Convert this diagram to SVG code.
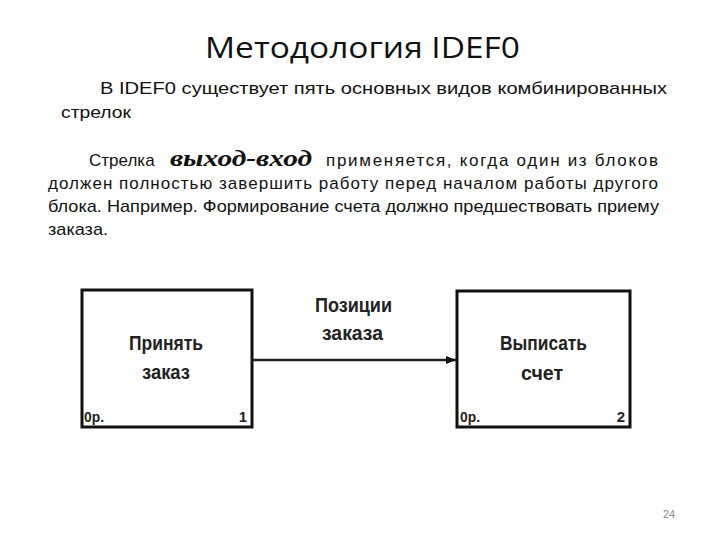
<svg xmlns="http://www.w3.org/2000/svg" width="720" height="540" viewBox="0 0 720 540">
<defs>
<style>
.t{font-family:"Liberation Sans",Arial,sans-serif;fill:#111;}
.body{font-size:17px;}
.lbl{font-size:21px;font-weight:bold;fill:#222;}
.sm{font-size:15px;font-weight:bold;fill:#222;}
.box{fill:#fff;stroke:#111;stroke-width:3;}
.conn{stroke:#222;stroke-width:2.5;fill:none;}
</style>
<marker id="ah" markerWidth="10" markerHeight="8" refX="10" refY="4" orient="auto" markerUnits="userSpaceOnUse">
<path d="M0,0 L10,4 L0,8 z" fill="#111"/>
</marker>
</defs>
<rect width="720" height="540" fill="#fff"/>
<text x="205" y="58" textLength="315" lengthAdjust="spacingAndGlyphs" style="font-family:'Open Sans','Liberation Sans',sans-serif;font-size:30px;fill:#111;">Методология IDEF0</text>
<text class="t body" x="100" y="94" textLength="567" lengthAdjust="spacingAndGlyphs">В IDEF0 существует пять основных видов комбинированных</text>
<text class="t body" x="61" y="118" textLength="70" lengthAdjust="spacingAndGlyphs">стрелок</text>
<text class="t body" x="89" y="166">Стрелка</text>
<text x="170" y="166" style="font-family:'Liberation Serif','DejaVu Serif',serif;font-size:24px;font-weight:bold;font-style:italic;fill:#111;" textLength="142" lengthAdjust="spacingAndGlyphs">выход-вход</text>
<text class="t body" x="326" y="166" textLength="332" lengthAdjust="spacing">применяется, когда один из блоков</text>
<text class="t body" x="48" y="189" textLength="610" lengthAdjust="spacing">должен полностью завершить работу перед началом работы другого</text>
<text class="t body" x="48" y="212" textLength="611" lengthAdjust="spacingAndGlyphs">блока. Например. Формирование счета должно предшествовать приему</text>
<text class="t body" x="48" y="235" textLength="60" lengthAdjust="spacingAndGlyphs">заказа.</text>
<g id="connectors">
<line class="conn" x1="252" y1="360" x2="456" y2="360" marker-end="url(#ah)"/>
<text class="t lbl" x="315" y="312" textLength="77" lengthAdjust="spacingAndGlyphs">Позиции</text>
<text class="t lbl" x="322" y="340" textLength="61" lengthAdjust="spacingAndGlyphs">заказа</text>
</g>
<g id="node1">
<rect class="box" x="82" y="290" width="170" height="137"/>
<text class="t lbl" x="129" y="350" textLength="74" lengthAdjust="spacingAndGlyphs">Принять</text>
<text class="t lbl" x="142" y="379" textLength="48" lengthAdjust="spacingAndGlyphs">заказ</text>
<text class="t sm" x="84" y="422" textLength="20" lengthAdjust="spacingAndGlyphs">0р.</text>
<text class="t sm" x="247" y="422" text-anchor="end">1</text>
</g>
<g id="node2">
<rect class="box" x="457" y="291" width="173" height="136"/>
<text class="t lbl" x="500" y="350" textLength="87" lengthAdjust="spacingAndGlyphs">Выписать</text>
<text class="t lbl" x="521" y="380" textLength="42" lengthAdjust="spacingAndGlyphs">счет</text>
<text class="t sm" x="460" y="422" textLength="20" lengthAdjust="spacingAndGlyphs">0р.</text>
<text class="t sm" x="625" y="422" text-anchor="end">2</text>
</g>
<text x="669" y="518" text-anchor="middle" style="font-family:'Liberation Sans',sans-serif;font-size:11px;fill:#888;">24</text>
</svg>
